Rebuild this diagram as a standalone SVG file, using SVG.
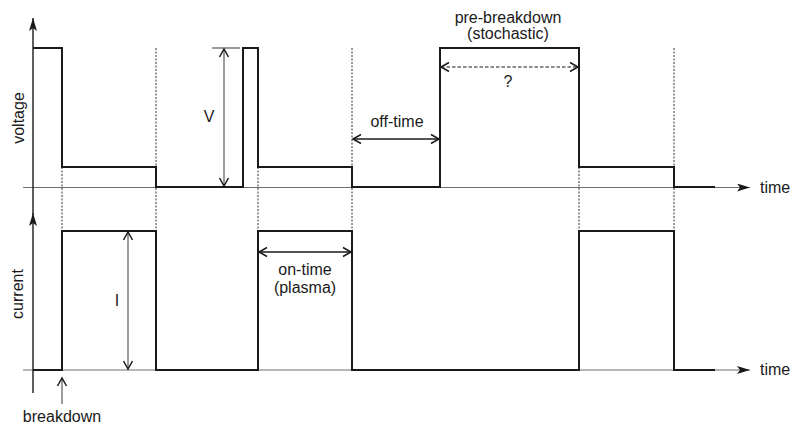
<svg xmlns="http://www.w3.org/2000/svg" width="812" height="430" viewBox="0 0 812 430">
<style>
  text { font-family: "Liberation Sans", Arial, sans-serif; font-size: 16px; fill: #1a1a1a; }
  .wave { fill: none; stroke: #1a1a1a; stroke-width: 2; stroke-linejoin: miter; }
  .taxis { fill: none; stroke: #6e6e6e; stroke-width: 1.2; }
  .yaxis { fill: none; stroke: #1a1a1a; stroke-width: 1.4; }
  .dot { fill: none; stroke: #333; stroke-width: 1; stroke-dasharray: 2 1.5; }
  .blk { fill: none; stroke: #1a1a1a; stroke-width: 1.4; }
  .gry { fill: none; stroke: #7a7a7a; stroke-width: 1.5; }
  .dsh { fill: none; stroke: #1a1a1a; stroke-width: 1.2; stroke-dasharray: 3.5 2; }
</style>
<defs>
  <marker id="fa" viewBox="0 0 13 8" refX="13" refY="4" markerWidth="13" markerHeight="8" markerUnits="userSpaceOnUse" orient="auto">
    <path d="M0,0 L13,4 L0,8 L3,4 z" fill="#1a1a1a"/>
  </marker>
  <marker id="ob" viewBox="-1 -1 11 11" refX="8.5" refY="4.5" markerWidth="11" markerHeight="11" markerUnits="userSpaceOnUse" orient="auto-start-reverse" overflow="visible">
    <path d="M0.5,0 L8.5,4.5 L0.5,9" fill="none" stroke="#1a1a1a" stroke-width="1.5"/>
  </marker>
  <marker id="og" viewBox="-1 -1 11 11" refX="8.5" refY="4.5" markerWidth="11" markerHeight="11" markerUnits="userSpaceOnUse" orient="auto-start-reverse" overflow="visible">
    <path d="M0.5,0 L8.5,4.5 L0.5,9" fill="none" stroke="#1a1a1a" stroke-width="1.5"/>
  </marker>
</defs>

<g id="guides">
  <line class="dot" x1="62" y1="167" x2="62" y2="231"/>
  <line class="dot" x1="156" y1="48" x2="156" y2="231"/>
  <line class="dot" x1="258" y1="167" x2="258" y2="231"/>
  <line class="dot" x1="352" y1="48" x2="352" y2="231"/>
  <line class="dot" x1="579" y1="167" x2="579" y2="231"/>
  <line class="dot" x1="674" y1="48" x2="674" y2="231"/>
</g>

<g id="voltage-axes">
  <line class="taxis" x1="23" y1="187.5" x2="750" y2="187.5" marker-end="url(#fa)"/>
  <line class="yaxis" x1="33" y1="214" x2="33" y2="18" marker-end="url(#fa)"/>
  <text transform="translate(24,118) rotate(-90)" text-anchor="middle">voltage</text>
  <text x="760" y="193">time</text>
</g>

<g id="current-axes">
  <line class="taxis" x1="23" y1="370" x2="750" y2="370" marker-end="url(#fa)"/>
  <line class="yaxis" x1="33" y1="393" x2="33" y2="213" marker-end="url(#fa)"/>
  <text transform="translate(23,294) rotate(-90)" text-anchor="middle">current</text>
  <text x="760" y="375">time</text>
</g>

<g id="voltage-wave">
  <polyline class="wave" points="33,48 62,48 62,167 156,167 156,187 243,187 243,48 258,48 258,167 352,167 352,187 440,187 440,48 579,48 579,167 674,167 674,187 715,187"/>
</g>

<g id="current-wave">
  <polyline class="wave" points="33,370 62,370 62,231 156,231 156,370 258,370 258,231 352,231 352,370 579,370 579,231 674,231 674,370 715,370"/>
</g>

<g id="connectors">
  <line x1="212" y1="48" x2="240" y2="48" stroke="#7a7a7a" stroke-width="1.5"/>
  <line class="gry" x1="224" y1="49" x2="224" y2="186" marker-start="url(#og)" marker-end="url(#og)"/>
  <line class="gry" x1="128" y1="232" x2="128" y2="369" marker-start="url(#og)" marker-end="url(#og)"/>
  <line class="blk" x1="353" y1="139" x2="439" y2="139" marker-start="url(#ob)" marker-end="url(#ob)"/>
  <line class="dsh" x1="441" y1="67" x2="578" y2="67" marker-start="url(#ob)" marker-end="url(#ob)"/>
  <line class="blk" x1="259" y1="252" x2="351" y2="252" marker-start="url(#ob)" marker-end="url(#ob)"/>
  <line class="gry" x1="62" y1="404" x2="62" y2="378" marker-end="url(#og)"/>
</g>

<g id="labels">
  <text x="209" y="122" text-anchor="middle">V</text>
  <text x="117" y="306" text-anchor="middle">I</text>
  <text x="397" y="127" text-anchor="middle">off-time</text>
  <text x="508" y="23" text-anchor="middle">pre-breakdown</text>
  <text x="508" y="39" text-anchor="middle">(stochastic)</text>
  <text x="508" y="87" text-anchor="middle">?</text>
  <text x="305" y="275" text-anchor="middle">on-time</text>
  <text x="305" y="293" text-anchor="middle">(plasma)</text>
  <text x="62" y="422" text-anchor="middle">breakdown</text>
</g>
</svg>
